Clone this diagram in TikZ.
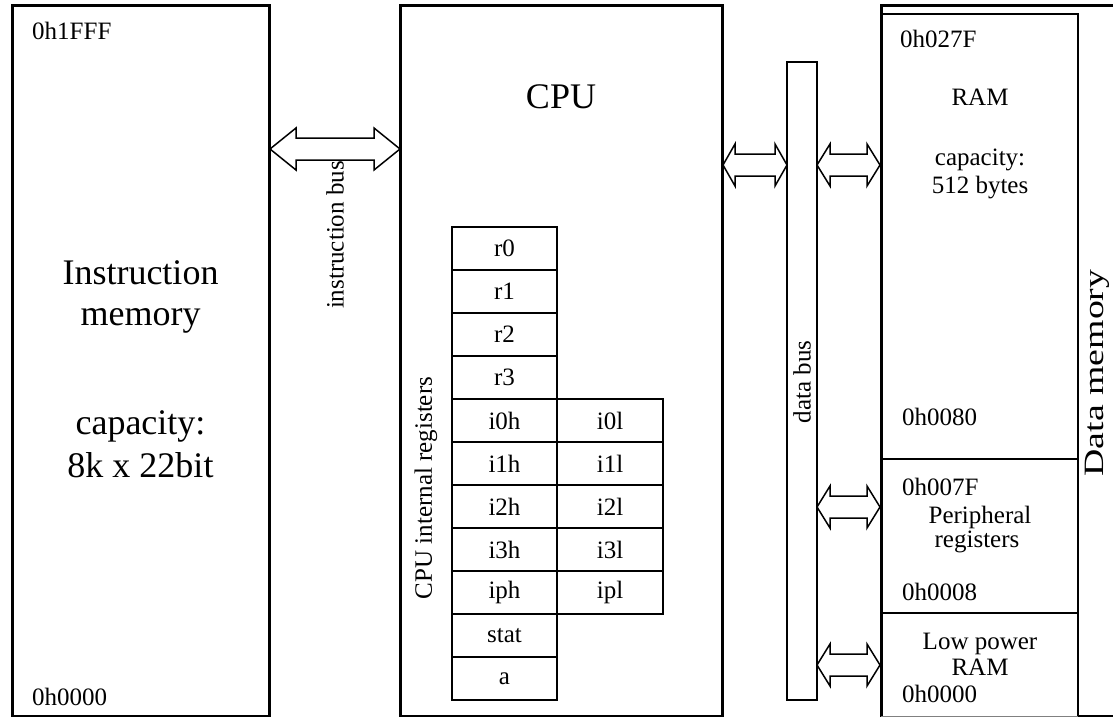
\documentclass[tikz,border=0pt]{standalone}
\usepackage{fontspec}
\setmainfont{Liberation Serif}
\newcommand{\smallfs}{\fontsize{25}{29}\selectfont}
\newcommand{\bigfs}{\fontsize{36}{42}\selectfont}
\newcommand{\busarrow}[4]{% xa, xb, y, head length
  \draw[thinline, fill=white] (#1,#3) -- ({#1+#4},{#3-21}) -- ({#1+#4},{#3-11}) -- ({#2-#4},{#3-11}) -- ({#2-#4},{#3-21}) -- (#2,#3)
    -- ({#2-#4},{#3+21}) -- ({#2-#4},{#3+11}) -- ({#1+#4},{#3+11}) -- ({#1+#4},{#3+21}) -- cycle;}
\tikzset{
  thickline/.style={line width=3pt, draw=black},
  thinline/.style={line width=1.5pt, draw=black},
  lbl/.style={font=\smallfs, inner sep=0pt},
  biglbl/.style={font=\bigfs, inner sep=0pt, anchor=base},
  reg/.style={font=\smallfs, inner sep=0pt}
}
\begin{document}
\begin{tikzpicture}[x=1pt,y=-1pt]
\useasboundingbox (0,0) rectangle (1113,717);
\clip (0,0) rectangle (1113,717);
\fill[white] (0,0) rectangle (1113,717);

% Instruction memory
\draw[thickline] (12.5,5.5) rectangle (269,716.5);
\node[lbl, anchor=base west] (imtop) at (32,40) {0h1FFF};
\node[lbl, anchor=base west] (imbot) at (32,705) {0h0000};
\node[biglbl] (im1) at (140.5,284) {Instruction};
\node[biglbl] (im2) at (140.5,325) {memory};
\node[biglbl] (im3) at (140.5,434) {capacity:};
\node[biglbl] (im4) at (140.5,477) {8k x 22bit};

% instruction bus
\busarrow{270}{400}{149}{26}
\node[lbl, rotate=90] (ibus) at (335,235) {instruction bus};

% CPU
\draw[thickline] (400,5.5) rectangle (722,716.5);
\node[biglbl] (cpu) at (561,108) {CPU};
\node[lbl, rotate=90] (cpuregs) at (426,488) {CPU internal registers};

% registers
\foreach \n [count=\i from 0] in {r0,r1,r2,r3,i0h,i1h,i2h,i3h,iph,stat,a}{
  \draw[thinline] (452,{227+43*\i}) rectangle (557,{270+43*\i});
  \node[reg] (reg\i) at (504.5,{248.5+43*\i}) {\n};
}
\foreach \n [count=\i from 4] in {i0l,i1l,i2l,i3l,ipl}{
  \draw[thinline] (557,{227+43*\i}) rectangle (663,{270+43*\i});
  \node[reg] (regl\i) at (610,{248.5+43*\i}) {\n};
}

% data bus
\draw[thinline, fill=white] (787,62) rectangle (817,700);
\node[lbl, rotate=90] (dbus) at (802,382) {data bus};
\busarrow{723}{787}{165}{12}
\busarrow{817}{880}{165}{13}
\busarrow{817}{880}{507}{13}
\busarrow{817}{880}{665}{13}

% Data memory
\draw[thickline] (881,716.5) -- (881,5.5) -- (1120,5.5);
\draw[thinline] (883,14) -- (1078,14) -- (1078,716);
\draw[thinline] (1078,716) -- (1120,716);
\draw[thinline] (881,459) -- (1078,459);
\draw[thinline] (881,613) -- (1078,613);
\draw[line width=1pt, draw=black!50] (881,716.5) -- (1078,716.5);

\node[lbl, anchor=base west] (a027f) at (900,48) {0h027F};
\node[lbl, anchor=base] (ram) at (980,105) {RAM};
\node[lbl, anchor=base] (cap1) at (980,165) {capacity:};
\node[lbl, anchor=base] (cap2) at (980,193) {512 bytes};
\node[lbl, anchor=base west] (a0080) at (902,425) {0h0080};
\node[lbl, anchor=base west] (a007f) at (902,495) {0h007F};
\node[lbl, anchor=base] (per1) at (980,523) {Peripheral};
\node[lbl, anchor=base] (per2) at (977,547) {registers};
\node[lbl, anchor=base west] (a0008) at (902,600) {0h0008};
\node[lbl, anchor=base] (lp1) at (980,649) {Low power};
\node[lbl, anchor=base] (lp2) at (980,675) {RAM};
\node[lbl, anchor=base west] (a0000) at (902,702) {0h0000};
\node[font=\fontsize{28}{32}\selectfont, inner sep=0pt, rotate=90, anchor=base] (dmem) at (1103,373) {\scalebox{1.35}[1]{Data memory}};
\end{tikzpicture}
\end{document}
